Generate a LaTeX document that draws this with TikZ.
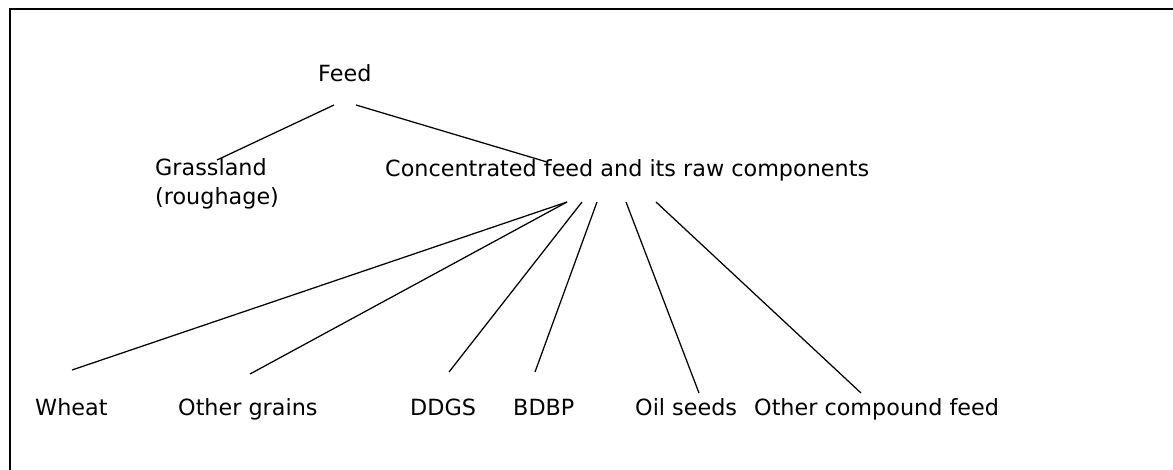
\documentclass[tikz,border=0pt]{standalone}
\usepackage{fontspec}
\setmainfont{DejaVu Sans}
\usepackage{tikz}
\usetikzlibrary{calc,positioning}
\newcommand{\lblfont}{\fontsize{22.3pt}{29pt}\selectfont}

\begin{document}
\begin{tikzpicture}[x=1pt,y=-1pt,
    every node/.style={inner sep=0pt,anchor=base west,font=\lblfont},
    link/.style={line width=1.25pt}]
    \useasboundingbox (0,0) rectangle (1173,470);
    \draw[line width=2.4pt] (10,9) rectangle (1200,500);

    \node(Feed) at (318,82) {Feed};
    \node(Grass) at (155,205) [align=left] {Grassland\\(roughage)};
    \node(Conc) at (385,177) {Concentrated feed and its raw components};
    \node(Wheat) at (35,415) {Wheat};
    \node(Grains) at (178,415) {Other grains};
    \node(DDGS) at (410,415) {DDGS};
    \node(BDBP) at (513,415) {BDBP};
    \node(Oil) at (635,415) {Oil seeds};
    \node(Comp) at (754,415) {Other compound feed};

    \begin{scope}[link]
      \draw ([xshift=16pt,yshift=-23pt]Feed.base west) -- ([xshift=62pt,yshift=45pt]Grass.base west);
      \draw ([xshift=38pt,yshift=-23pt]Feed.base west) -- ([xshift=162pt,yshift=15pt]Conc.base west);
      \draw ([xshift=182pt,yshift=-25pt]Conc.base west)
        edge ([xshift=37pt,yshift=45pt]Wheat.base west)
        edge ([xshift=72pt,yshift=41pt]Grains.base west);
      \draw ([xshift=197pt,yshift=-25pt]Conc.base west) -- ([xshift=39pt,yshift=43pt]DDGS.base west);
      \draw ([xshift=212pt,yshift=-25pt]Conc.base west) -- ([xshift=22pt,yshift=43pt]BDBP.base west);
      \draw ([xshift=241pt,yshift=-25pt]Conc.base west) -- ([xshift=64pt,yshift=22pt]Oil.base west);
      \draw ([xshift=271pt,yshift=-25pt]Conc.base west) -- ([xshift=107pt,yshift=22pt]Comp.base west);
    \end{scope}
  \end{tikzpicture}
\end{document}
